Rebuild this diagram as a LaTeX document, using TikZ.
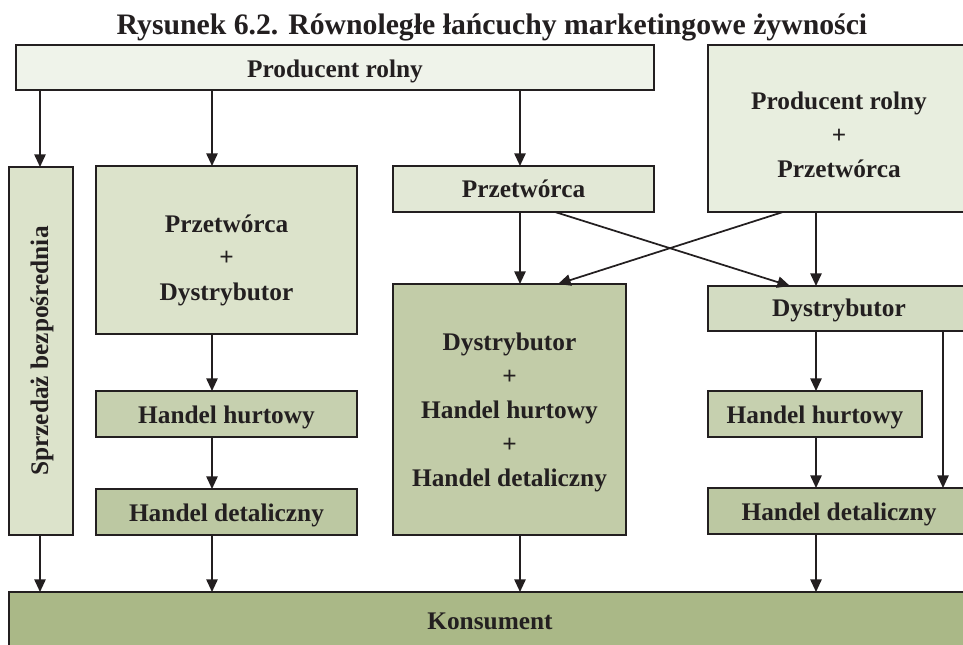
\documentclass[tikz,border=0pt]{standalone}
\usepackage{fontspec}
\setmainfont{Liberation Serif}
\usetikzlibrary{arrows.meta}
\definecolor{cProd}{HTML}{EFF3EA}
\definecolor{cPP}{HTML}{E8EEDF}
\definecolor{cSB}{HTML}{DCE3CB}
\definecolor{cPrz}{HTML}{E2E8D6}
\definecolor{cHH}{HTML}{C6D0AF}
\definecolor{cHD}{HTML}{BCC8A2}
\definecolor{cBig}{HTML}{C2CCA8}
\definecolor{cDys}{HTML}{D3DCC2}
\definecolor{cKons}{HTML}{AAB887}
\definecolor{cLine}{HTML}{231F20}
\tikzset{
  box/.style={draw=cLine, line width=1.4pt, inner sep=0pt, outer sep=0pt},
  txt/.style={inner sep=0pt, outer sep=0pt, align=center, anchor=base,
    font=\fontsize{19}{25.5}\selectfont\bfseries, text=cLine},
  arr/.style={draw=cLine, line width=1.3pt, -{Triangle[length=9.5pt,width=8.5pt]}},
}
\begin{document}
\begin{tikzpicture}[x=0.75pt,y=-0.75pt]
\useasboundingbox (0,0) rectangle (963,645);
\node[txt, font=\fontsize{22.3}{26}\selectfont\bfseries] (title) at (492,35) {Rysunek 6.2. Równoległe łańcuchy marketingowe żywności};
% boxes
\node[box, fill=cProd, minimum width=478.5pt, minimum height=33.75pt] (prod) at (335,67.5) {};
\node[box, fill=cPP, minimum width=196.5pt, minimum height=125.25pt] (pp) at (839,128.5) {};
\node[box, fill=cSB, minimum width=48pt, minimum height=276pt] (sb) at (41,351) {};
\node[box, fill=cSB, minimum width=195.75pt, minimum height=126pt] (pd) at (226.5,250) {};
\node[box, fill=cPrz, minimum width=195.75pt, minimum height=34.5pt] (prz) at (523.5,189) {};
\node[box, fill=cHH, minimum width=195.75pt, minimum height=34.5pt] (hh1) at (226.5,414) {};
\node[box, fill=cHD, minimum width=195.75pt, minimum height=34.5pt] (hd1) at (226.5,512) {};
\node[box, fill=cBig, minimum width=174.75pt, minimum height=188.25pt] (big) at (509.5,409.5) {};
\node[box, fill=cDys, minimum width=196.5pt, minimum height=33.75pt] (dys) at (839,308.5) {};
\node[box, fill=cHH, minimum width=160.5pt, minimum height=34.5pt] (hh2) at (815,414) {};
\node[box, fill=cHD, minimum width=196.5pt, minimum height=34.5pt] (hd2) at (839,511) {};
\node[box, fill=cKons, minimum width=721.5pt, minimum height=42pt] (kons) at (490,620) {};
% texts (multi-line: base = last line)
\node[txt] (tprod) at (335,77.7) {Producent rolny};
\node[txt] (tpp) at (839,178) {Producent rolny\\+\\Przetwórca};
\node[txt, anchor=center, rotate=90] (tsb) at (42,351) {\raisebox{0pt}[13.5pt][4.5pt]{Sprzedaż bezpośrednia}};
\node[txt] (tpd) at (226.5,300) {Przetwórca\\+\\Dystrybutor};
\node[txt] (tprz) at (523.5,198) {Przetwórca};
\node[txt] (thh1) at (226.5,423.3) {Handel hurtowy};
\node[txt] (thd1) at (226.5,521) {Handel detaliczny};
\node[txt] (tbig) at (509.5,486.7) {Dystrybutor\\+\\Handel hurtowy\\+\\Handel detaliczny};
\node[txt] (tdys) at (839,316.7) {Dystrybutor};
\node[txt] (thh2) at (815,423.3) {Handel hurtowy};
\node[txt] (thd2) at (839,520) {Handel detaliczny};
\node[txt] (tkons) at (490,629) {Konsument};
% arrows
\coordinate (xa) at (40,0);
\coordinate (xb) at (212,0);
\coordinate (xc) at (520,0);
\coordinate (xd) at (816,0);
\coordinate (xe) at (943,0);
\coordinate (s1) at (555,0);
\coordinate (e1) at (790,0);
\coordinate (s2) at (783,0);
\coordinate (e2) at (558,0);
\draw[arr] (prod.south -| xa) -- (sb.north -| xa);
\draw[arr] (prod.south -| xb) -- (pd.north -| xb);
\draw[arr] (prod.south -| xc) -- (prz.north -| xc);
\draw[arr] (prz.south -| xc) -- (big.north -| xc);
\draw[arr] (prz.south -| s1) -- (dys.north -| e1);
\draw[arr] (pp.south -| s2) -- (big.north -| e2);
\draw[arr] (pp.south -| xd) -- (dys.north -| xd);
\draw[arr] (dys.south -| xd) -- (hh2.north -| xd);
\draw[arr] (hh2.south -| xd) -- (hd2.north -| xd);
\draw[arr] (dys.south -| xe) -- (hd2.north -| xe);
\draw[arr] (pd.south -| xb) -- (hh1.north -| xb);
\draw[arr] (hh1.south -| xb) -- (hd1.north -| xb);
\draw[arr] (sb.south -| xa) -- (kons.north -| xa);
\draw[arr] (hd1.south -| xb) -- (kons.north -| xb);
\draw[arr] (big.south -| xc) -- (kons.north -| xc);
\draw[arr] (hd2.south -| xd) -- (kons.north -| xd);
\end{tikzpicture}
\end{document}
